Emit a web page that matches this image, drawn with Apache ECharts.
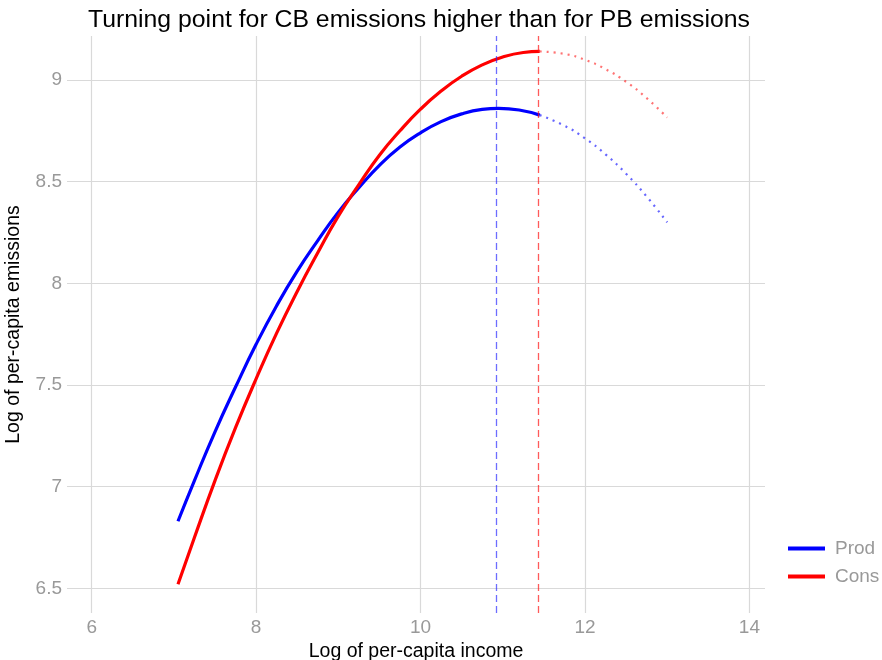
<!DOCTYPE html>
<html>
<head>
<meta charset="utf-8">
<script src="https://cdn.jsdelivr.net/npm/echarts@6/dist/echarts.min.js"></script>
<style>html,body{margin:0;padding:0;background:#fff}#c{width:882px;height:660px}</style>
</head>
<body>
<div id="c"></div>
<script>
// Solid (in-sample) fitted curves
const xProd = [7.05, 7.25, 7.5, 7.75, 8, 8.25, 8.5, 8.75, 9, 9.25, 9.5, 9.75, 10, 10.25, 10.5, 10.75, 10.95, 11.2, 11.45];
const prodSolid = [6.83, 7.03, 7.27, 7.49, 7.70, 7.89, 8.06, 8.21, 8.35, 8.47, 8.58, 8.67, 8.74, 8.795, 8.833, 8.855, 8.86, 8.852, 8.827];
const xCons = [7.05, 7.25, 7.5, 7.75, 8, 8.25, 8.5, 8.75, 9, 9.25, 9.5, 9.75, 10, 10.25, 10.5, 10.75, 11, 11.25, 11.45];
const consSolid = [6.52, 6.75, 7.03, 7.29, 7.53, 7.755, 7.96, 8.15, 8.33, 8.485, 8.63, 8.75, 8.856, 8.945, 9.018, 9.074, 9.113, 9.135, 9.14];
// Dotted (out-of-sample) part
const xDotted = [11.45, 11.75, 12, 12.25, 12.5, 12.75, 13];
const prodDotted = [8.827, 8.775, 8.713, 8.634, 8.539, 8.427, 8.30];
const consDotted = [9.14, 9.128, 9.099, 9.053, 8.991, 8.911, 8.815];
// Turning points
const turnProd = 10.92;
const turnCons = 11.43;
const xTicks = [6, 8, 10, 12, 14];
const yTicks = [6.5, 7, 7.5, 8, 8.5, 9];

const zip = (xs, ys) => xs.map((x, i) => [x, ys[i]]);
const font = '"Liberation Sans", Arial, sans-serif';
const BLUE = '#0000ff', RED = '#ff0000';

const chart = echarts.init(document.getElementById('c'), null, {renderer: 'canvas'});
chart.setOption({
  animation: false,
  backgroundColor: '#fff',
  title: {
    text: 'Turning point for CB emissions higher than for PB emissions',
    left: 414, top: 3, textAlign: 'center',
    textStyle: {fontFamily: font, fontSize: 24.8, fontWeight: 'normal', color: '#000'}
  },
  grid: {left: 67, right: 117, top: 36, bottom: 47, containLabel: false, outerBoundsMode: 'none'},
  xAxis: {
    type: 'value', min: 5.7, max: 14.19,
    name: 'Log of per-capita income', nameLocation: 'middle', nameGap: 27,
    nameTextStyle: {fontFamily: font, fontSize: 19.5, color: '#000'},
    axisLine: {show: false},
    axisTick: {show: false, customValues: xTicks},
    axisLabel: {fontFamily: font, fontSize: 19, color: '#999', margin: 5, customValues: xTicks},
    splitLine: {show: true, lineStyle: {color: '#d9d9d9', width: 1.2}}
  },
  yAxis: {
    type: 'value', min: 6.379, max: 9.216,
    name: 'Log of per-capita emissions', nameLocation: 'middle', nameGap: 43, nameRotate: 90,
    nameTextStyle: {fontFamily: font, fontSize: 19.5, color: '#000'},
    axisLine: {show: false},
    axisTick: {show: false, customValues: yTicks},
    axisLabel: {fontFamily: font, fontSize: 19, color: '#999', margin: 5, customValues: yTicks},
    splitLine: {show: true, lineStyle: {color: '#d9d9d9', width: 1.2}}
  },
  legend: {
    orient: 'vertical', left: 783, top: 534, itemGap: 9,
    itemWidth: 37, itemHeight: 4, icon: 'rect',
    data: ['Prod', 'Cons'],
    textStyle: {fontFamily: font, fontSize: 19, color: '#999', padding: [0, 0, 0, 5]}
  },
  series: [
    {
      name: 'Prod', type: 'line', data: zip(xProd, prodSolid), smooth: true,
      showSymbol: false, symbol: 'none', color: BLUE,
      lineStyle: {color: BLUE, width: 3.2}, z: 3,
      markLine: {
        silent: true, symbol: ['none', 'none'], label: {show: false},
        lineStyle: {color: 'rgba(30,30,255,0.65)', type: [7, 4], width: 1.3},
        data: [{xAxis: turnProd}]
      }
    },
    {
      name: 'Cons', type: 'line', data: zip(xCons, consSolid), smooth: true,
      showSymbol: false, symbol: 'none', color: RED,
      lineStyle: {color: RED, width: 3.2}, z: 3,
      markLine: {
        silent: true, symbol: ['none', 'none'], label: {show: false},
        lineStyle: {color: 'rgba(255,20,20,0.7)', type: [7, 4], width: 1.3},
        data: [{xAxis: turnCons}]
      }
    },
    {
      name: 'ProdOut', type: 'line', data: zip(xDotted, prodDotted), smooth: true,
      showSymbol: false, symbol: 'none',
      lineStyle: {color: 'rgba(0,0,255,0.6)', width: 2.2, type: [2, 5]}
    },
    {
      name: 'ConsOut', type: 'line', data: zip(xDotted, consDotted), smooth: true,
      showSymbol: false, symbol: 'none',
      lineStyle: {color: 'rgba(255,0,0,0.55)', width: 2.2, type: [2, 5]}
    }
  ]
});
</script>
</body>
</html>
